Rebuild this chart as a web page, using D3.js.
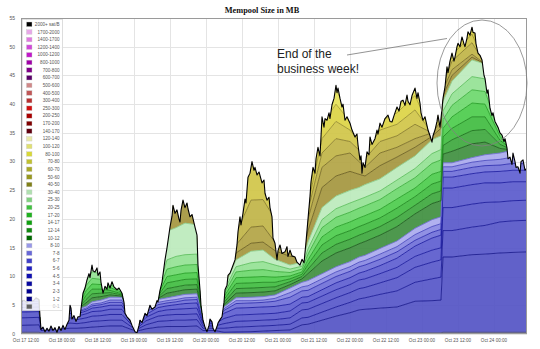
<!DOCTYPE html>
<html><head><meta charset="utf-8">
<script src="https://cdn.jsdelivr.net/npm/d3@7"></script>
<style>body{margin:0;background:#fff}svg{display:block}</style>
</head><body>
<svg id="chart" width="540" height="349"></svg>
<script>
// ---- categories (legend order, top to bottom) ----
const feeBands = ["2000+ sat/B","1700-2000","1400-1700","1200-1400","1000-1200","800-1000","700-800","600-700","500-600","400-500","300-400","250-300","200-250","170-200","140-170","120-140","100-120","80-100","70-80","60-70","50-60","40-50","30-40","25-30","20-25","17-20","14-17","12-14","10-12","8-10","7-8","6-7","5-6","4-5","3-4","2-3","1-2","0-1"];
const bandColors = ["#000000","#e8a8e8","#e078e0","#d048d8","#c018c8","#a000a8","#800088","#580068","#d08888","#c05858","#b83030","#d01010","#a80000","#800000","#600010","#e8e8a8","#e0e070","#d8d838","#c0c030","#a8a828","#989820","#808018","#b0e0b0","#80d080","#40c040","#20b020","#10a010","#108810","#006800","#9898e8","#6868d8","#4040c8","#2020c0","#1010b0","#0808a0","#000090","#000080","#606060"];

// ---- sample times (hours after Oct 17 12:00) for the fee layers ----
const layerHours = [-2,4.33,5,14.67,17,20,22,25,28,32,35,37,40,44,47,50,53,57,59,63,66,70,75,79,83,88,92,94,98.67,103.33,108,111,113,118,123.67,129.67,135.33,138.33,139,142,148.67,153,158,162.33,168];

// ---- layer sizes in MB (bottom layer first) ----
const v0_1   = [0.3,0.3,0.2,0.2,0.2,0.2,0.2,0.2,0.2,0.2, 0.2,0.1,0.2,0.2,0.2,0.2,0.2,0.2,0.1,0.1, 0.1,0.1,0.1,0.1,0.1,0.1,0.2,0.2,0.2,0.2, 0.2,0.2,0.2,0.2,0.2,0.2,0.2,0.2,0.3,0.3, 0.3,0.3,0.3,0.3,0.3];
const v1_2   = [1.2,1.3,0.4,0.8,0.8,0.9,1.0,1.1,1.2,1.2, 0.6,0.4,0.7,1.0,1.1,1.1,1.1,1.2,0.5,0.5, 0.2,0.25,0.3,0.4,0.5,0.6,1.4,1.5,2.2,2.9, 3.5,4.0,4.1,4.3,4.5,5.5,5.6,5.7,13.1,13.1, 13.5,13.6,13.8,13.9,14.0];
const v2_3   = [1.3,1.3,0.3,0.9,0.8,0.9,1.0,1.0,1.0,1.0, 0.5,0.3,0.7,1.0,1.0,1.1,1.1,1.1,0.4,0.4, 0.7,0.85,0.9,0.9,0.9,1.0,1.2,1.2,1.4,1.6, 1.8,1.9,2.0,2.4,2.8,3.3,3.8,4.0,4.6,4.6, 4.8,5.0,5.4,5.5,5.5];
const v3_4   = [1.0,1.0,0.3,0.9,0.7,0.8,0.9,0.9,1.0,1.0, 0.4,0.2,0.7,0.9,1.0,1.0,1.0,1.0,0.4,0.4, 0.8,1.0,1.0,1.0,1.0,1.1,1.4,1.4,1.5,1.6, 1.7,1.8,1.8,2.0,2.3,2.6,2.9,3.0,4.0,4.0, 4.0,4.0,3.5,3.5,3.5];
const v4_5   = [0.8,0.8,0.2,0.8,0.6,0.7,0.8,0.8,0.9,0.9, 0.3,0.2,0.6,0.8,0.9,0.9,1.0,1.0,0.4,0.4, 0.9,1.1,1.1,1.1,1.1,1.2,1.2,1.2,1.3,1.4, 1.4,1.5,1.5,1.6,1.8,1.9,2.1,2.1,3.4,3.4, 3.4,3.4,3.3,3.3,3.2];
const v5_6   = [0.6,0.6,0.2,0.6,0.4,0.5,0.6,0.7,0.7,0.7, 0.2,0.1,0.5,0.7,0.7,0.8,0.9,0.9,0.3,0.3, 0.9,1.2,1.2,1.2,1.2,1.2,1.0,1.0,1.1,1.2, 1.2,1.2,1.3,1.4,1.6,1.8,2.1,2.2,1.9,1.9, 1.9,1.9,2.0,2.0,2.0];
const v6_7   = [0.4,0.4,0.1,0.4,0.3,0.3,0.4,0.4,0.5,0.5, 0.2,0.1,0.4,0.5,0.5,0.5,0.6,0.6,0.2,0.2, 0.5,0.8,0.8,0.8,0.9,1.2,1.1,1.1,1.1,1.1, 1.1,1.1,1.1,1.1,1.1,1.0,1.0,1.0,1.0,1.0, 1.1,1.1,1.1,1.2,1.1];
const v7_8   = [0.3,0.3,0.1,0.3,0.2,0.2,0.3,0.3,0.4,0.4, 0.1,0.1,0.3,0.4,0.4,0.4,0.4,0.4,0.2,0.2, 0.3,0.5,0.4,0.4,0.5,0.8,0.7,0.8,0.8,0.8, 0.8,0.8,0.8,0.9,0.9,1.0,1.0,1.0,0.8,0.8, 0.9,0.9,1.0,1.1,1.0];
const v8_10  = [0.9,0.9,0.2,0.6,0.3,0.3,0.4,0.5,0.5,0.5, 0.2,0.3,0.4,0.5,0.5,0.6,0.6,0.6,0.5,0.5, 0.3,0.5,0.6,0.6,0.6,0.8,0.8,0.9,0.9,0.9, 0.9,0.9,0.9,1.0,1.0,1.1,1.2,1.2,0.7,0.7, 0.8,1.0,1.1,1.2,1.0];
const v10_12 = [0,0,0,0,0,0.6,0.7,0.6,0.4,0.2, 0,0,0,0.2,0.8,0.8,0.8,0.8,0,0, 0.4,0.8,0.8,0.8,0.7,0.6,0.6,1.2,2.2,2.4, 2.4,2.3,2.4,2.3,2.5,2.5,2.8,2.8,1.5,2.0, 2.4,2.2,0.8,0,0];
const v12_14 = [0,0,0,0,0,0.6,0.7,0.6,0.4,0.2, 0,0,0,0.2,0.8,0.8,0.8,0.8,0,0, 0.4,0.8,0.8,0.8,0.7,0.5,0.4,0.8,1.4,1.5, 1.5,1.5,1.5,1.5,1.6,1.5,1.7,1.7,1.5,2.0, 2.3,2.2,0.7,0,0];
const v14_17 = [0,0,0,0,0,0.7,0.8,0.7,0.4,0.2, 0,0,0,0.2,1.0,1.0,1.0,1.0,0,0, 0.5,0.9,0.9,0.9,0.8,0.5,0.4,0.8,1.4,1.5, 1.5,1.5,1.5,1.5,1.6,1.5,1.7,1.7,1.5,2.0, 2.4,2.2,0.7,0,0];
const v17_20 = [0,0,0,0,0,0.8,0.9,0.8,0.5,0.2, 0,0,0,0.3,1.1,1.1,1.1,1.1,0,0, 0.5,1.0,1.0,1.0,0.9,0.5,0.4,0.8,1.4,1.5, 1.5,1.5,1.5,1.5,1.6,1.5,1.7,1.7,1.5,2.0, 2.4,2.2,0.7,0,0];
const v20_25 = [0,0,0,0,0,0.9,1.0,0.9,0.5,0.3, 0,0,0,0.3,1.3,1.4,1.4,1.4,0,0, 0.5,1.0,1.2,1.2,1.0,0.6,0.5,1.0,1.6,1.7, 1.7,1.7,1.7,1.7,1.8,1.8,1.9,2.0,1.5,2.0, 2.3,2.2,0.7,0,0];
const v25_30 = [0,0,0,0,0,0.9,1.1,1.0,0.6,0.3, 0,0,0,0.4,1.6,1.8,1.8,1.8,0,0, 0.5,0.9,1.3,1.4,1.1,0.6,0.5,0.9,1.4,1.5, 1.6,1.5,1.5,1.5,1.5,1.6,1.7,1.8,1.5,2.0, 2.3,2.2,0.7,0,0];
const v30_40 = [0,0,0,0,0,2.7,3.3,3.0,2.0,1.5, 0.5,0,0,1.0,5.0,5.0,5.5,5.1,0,0, 0.5,1.2,2.0,2.0,1.0,0.7,0.7,1.2,2.1,2.2, 2.2,2.1,2.2,2.1,2.2,2.2,2.4,2.4,1.7,2.2, 2.9,2.6,0.7,0,0];
const v40_50 = [0,0,0,0,0,0,0,0,0,0, 0,0,0,0,1.6,5.5,5.2,0,0,0, 1.0,1.2,1.4,1.4,1.5,1.5,1.0,2.0,3.5,3.5, 3.3,2.3,1.5,2.3,1.8,1.5,0.6,1.3,1.0,1.0, 0.5,0,0,0,0];
const v50_60 = [0,0,0,0,0,0,0,0,0,0, 0,0,0,0,0,0,0,0,0,0, 0,1.4,2.8,2.8,1.5,1.5,0.5,2.0,3.5,3.5, 3.2,2.2,1.5,2.2,1.7,1.5,0.6,1.2,1.0,1.0, 0.5,0,0,0,0];
const v60_70 = [0,0,0,0,0,0,0,0,0,0, 0,0,0,0,0,0,0,0,0,0, 0,2.0,4.7,4.6,4.0,1.5,0,1.5,2.5,3.0, 2.0,2.0,1.5,2.0,2.0,2.5,0,1.5,1.0,1.5, 2.0,0,0,0,0];
const v70_80 = [0,0,0,0,0,0,0,0,0,0, 0,0,0,0,0,0,0,0,0,0, 0,0,7.7,4.6,0,0,0,1.0,2.5,3.0, 2.0,1.5,1.0,2.0,2.0,2.5,0,1.0,0.5,1.0, 1.5,0,0,0,0];
const v80_100 = [0,0,0,0,0,0,0,0,0,0, 0,0,0,0,0,0,0,0,0,0, 0,0,0,0,0,0,0,1.0,2.5,3.0, 1.5,1.0,0.5,1.5,2.0,2.5,0,0.5,0,1.0, 1.0,0,0,0,0];
const v100_120 = [0,0,0,0,0,0,0,0,0,0, 0,0,0,0,0,0,0,0,0,0, 0,0,0,0,0,0,0,0.5,1.5,2.5, 1.0,0.5,0.5,1.0,1.0,1.5,0,0,0,0.5, 1.0,0,0,0,0];
const v120_140 = [0,0,0,0,0,0,0,0,0,0, 0,0,0,0,0,0,0,0,0,0, 0,0,0,0,0,0,0,0,1.0,2.0, 0.5,0.5,0,0.5,1.0,1.0,0,0,0,0, 0.4,0,0,0,0];

// ---- total mempool size: sample times (hours after Oct 17 12:00) and MB ----
const totalHours = [-2,-1.67,-0.67,0.33,1.33,2.33,3.33,4.33,4.67,5,5.67,6.33,7,7.67,8.33,9,9.67,10.33,11,11.67,12.33,13,13.67,14.33,14.67,15,15.33,16,16.67,17.33,18,19,19.67,20.33,21,21.33,22,22.33,23,23.67,24,24.67,25,25.67,26.33,27,27.33,28,28.67,29.33,30.33,31,32,32.67,33,33.67,34.67,35.33,36.33,37,37.67,38,38.67,39.67,40.33,41.33,42,43,43.67,44,44.67,45.33,46.33,47,48,48.67,49,49.67,50.33,51,51.33,51.67,52.33,53,53.67,54,54.67,55.33,56.33,57,57.33,58,58.33,59,59.67,60.33,61,61.33,62,62.33,63,63.67,64,64.67,65.33,66,66.33,67,67.33,68,68.67,69.67,70.33,70.67,71.33,71.67,72.33,73,73.33,74,74.67,75.33,76,76.33,77,77.67,78.67,79.33,79.67,80.33,81,81.33,82,82.33,83,83.67,84,84.67,85.33,86.33,87,87.33,88,88.67,89.67,90.33,91.33,92,92.67,93.33,94,94.67,95,95.67,96.33,96.67,97.33,98,98.67,99.33,99.67,100.33,101,101.33,102,102.67,103.33,103.67,104,104.67,105.33,105.67,106.33,107,108,108.67,109.67,110.33,110.67,111.33,111.67,112,112.33,113,113.67,114.33,114.67,115.33,116.33,117,117.33,118,118.67,119.67,120.67,121.33,122,122.67,123.67,124.33,125,125.67,126.33,127,127.33,128,128.67,129.67,130.33,130.67,131.33,131.67,132.33,133,134,134.67,135.33,135.67,136.33,137,137.33,138,138.33,139,139.67,140.33,140.67,141.33,142,142.67,143,143.67,144,144.67,145.33,146,146.33,147,147.33,148,148.67,149,149.67,150,150.67,151.33,152,152.67,153,153.67,154,154.67,155.33,155.67,156.33,157.33,158,158.67,159.33,159.67,160.33,160.67,161.33,162,162.33,163,163.33,164,164.67,165,165.67,166.33,167,168];
const totalMB = [5.6,5.6,5.9,5.4,6.1,5.7,6.3,6.0,3.0,0.8,1.2,0.4,1.0,0.5,1.4,0.6,1.1,0.3,1.3,0.6,1.5,0.8,1.7,2.4,5.0,4.5,2.6,3.2,2.2,3.0,3.0,7.1,8.0,9.4,10.5,9.8,12.0,11.0,10.8,11.5,10.2,10.8,9.0,7.1,8.3,7.8,8.9,8.0,9.1,8.2,7.7,8.0,7.1,5.5,3.6,3.0,2.4,1.5,0.4,0.2,1.5,2.4,2.0,3.6,3.2,5.0,4.3,4.7,5.8,5.6,7.6,9.0,12.9,15.0,18.6,20.5,22.4,21.0,21.6,20.0,19.5,21.5,23.3,22.0,22.8,21.8,20.4,20.8,18.6,17.2,12.0,7.7,5.0,2.4,1.2,0.4,1.5,2.6,2.1,1.0,0.4,1.3,1.9,2.5,3.0,5.5,7.7,8.5,10.2,10.6,11.5,12.9,15.5,17.8,20.4,19.0,21.0,23.5,22.8,27.3,28.0,30.0,28.5,29.0,27.7,28.2,26.3,26.8,24.5,23.3,23.8,22.0,20.4,16.7,15.8,12.9,14.5,15.5,14.0,14.3,15.2,13.5,14.6,13.6,13.4,12.5,12.0,13.0,12.4,16.0,20.0,24.0,26.5,29.0,28.0,30.5,32.5,31.0,37.8,36.0,37.5,37.2,38.5,37.5,39.9,41.0,43.3,42.0,42.8,41.0,39.5,40.0,37.2,37.8,36.7,35.5,34.3,34.8,32.9,30.3,31.0,28.0,29.8,29.0,31.7,31.2,34.3,33.0,34.0,35.5,34.8,36.7,36.0,37.5,38.1,37.0,36.9,38.0,39.5,38.8,40.5,40.7,39.8,41.6,40.5,39.9,41.5,42.8,41.0,42.0,40.2,38.5,37.2,37.8,35.5,34.5,33.4,34.5,35.5,37.0,38.1,36.0,37.5,41.0,43.0,46.5,45.5,47.5,48.9,47.5,48.2,50.0,50.6,50.0,51.7,50.5,50.0,51.5,52.6,52.0,53.4,52.5,52.4,50.5,48.9,48.5,47.7,45.0,44.5,41.9,42.5,39.3,38.0,38.5,37.0,36.0,35.0,34.6,33.5,34.0,32.4,30.5,30.8,29.5,31.5,30.0,29.0,29.1,28.0,30.0,30.3,28.5,28.9,29.0];

// ---- axis ticks ----
const yTicks = [0,5,10,15,20,25,30,35,40,45,50,55];
const xTickHours = [0,12,24,36,48,60,72,84,96,108,120,132,144,156];

// ---- plot styling (area fills / line colours per stacked layer) ----
const layerKeys = ["0-1","1-2","2-3","3-4","4-5","5-6","6-7","7-8","8-10","10-12","12-14","14-17","17-20","20-25","25-30","30-40","40-50","50-60","60-70","70-80","80-100","100-120","120-140"];
const layerFills = ["#7a7ab4","#5454c4","#5656c8","#5858ca","#5a5acc","#5e5ed0","#7070d8","#8888e2","#aaaaee","#3f8f3f","#3ea83e","#40bc40","#4ccc4c","#6cd86c","#94e294","#bceabc","#a4963e","#b2a444","#c0b446","#d0c648","#dcd444","#e6e258","#eeee8c"];
const layerStrokes = ["#505070","#1c1c90","#1c1c98","#1c1c9c","#1e1ea0","#2020a4","#3030b0","#4c4cc0","#7070d0","#1e5e1e","#1e741e","#208a20","#28a028","#40b040","#60c060","#90d090","#6e6224","#7c6e28","#8a7e2c","#9a9030","#aaa030","#b8b040","#c8c870"];

const layerSeries = [v0_1,v1_2,v2_3,v3_4,v4_5,v5_6,v6_7,v7_8,v8_10,v10_12,v12_14,v14_17,v17_20,v20_25,v25_30,v30_40,v40_50,v50_60,v60_70,v70_80,v80_100,v100_120,v120_140];

const start = Date.UTC(2020,9,17,12);
const t = h => new Date(start + h*3600e3);

const PL=21, PR=527, PT=18, PB=334;
const x = d3.scaleUtc().domain([t(-5/3), t(167)]).range([PL,PR]);
const y = d3.scaleLinear().domain([0,55]).range([PB,PT]);

const svg = d3.select("#chart");
const defs = svg.append("defs");
defs.append("clipPath").attr("id","plotClip").append("rect")
  .attr("x",PL).attr("y",PT).attr("width",PR-PL).attr("height",PB-PT);

const totalRows = totalMB.map((v,i)=>({h: totalHours[i], v}));
const totalArea = d3.area().x(d=>x(t(d.h))).y0(y(0)).y1(d=>y(d.v));
defs.append("clipPath").attr("id","totalClip").append("path").attr("d", totalArea(totalRows));

// title
svg.append("text").attr("x",262).attr("y",12.5).attr("text-anchor","middle")
  .attr("font-family","'Liberation Serif',serif").attr("font-weight","bold")
  .attr("font-size",8.3).attr("fill","#111").text("Mempool Size in MB");

// grid
const grid = svg.append("g").attr("stroke","#e4e4e4").attr("stroke-width",1);
yTicks.forEach(v=>grid.append("line").attr("x1",PL).attr("x2",PR).attr("y1",Math.round(y(v))+0.5).attr("y2",Math.round(y(v))+0.5));
xTickHours.forEach(h=>grid.append("line").attr("y1",PT).attr("y2",PB).attr("x1",Math.round(x(t(h)))+0.5).attr("x2",Math.round(x(t(h)))+0.5));

// stacked layers
const rows = layerHours.map((h,i)=>{const r={h}; layerKeys.forEach((k,j)=>r[k]=layerSeries[j][i]); return r;});
const stacked = d3.stack().keys(layerKeys)(rows);
const area = d3.area().x(d=>x(t(d.data.h))).y0(d=>y(d[0])).y1(d=>y(d[1]));
const topLine = d3.line().x(d=>x(t(d.data.h))).y(d=>y(d[1]));

const gPlot = svg.append("g").attr("clip-path","url(#plotClip)");
const gData = gPlot.append("g").attr("clip-path","url(#totalClip)");
stacked.forEach((s,i)=>{
  gData.append("path").attr("d",area(s)).attr("fill",layerFills[i]).attr("fill-opacity",0.92).attr("stroke","none");
});
stacked.forEach((s,i)=>{
  gData.append("path").attr("d",topLine(s)).attr("fill","none").attr("stroke",layerStrokes[i]).attr("stroke-width",0.9);
});
// total (2000+ series line on top of the stack)
const totalLine = d3.line().x(d=>x(t(d.h))).y(d=>y(d.v));
gPlot.append("path").attr("d",totalLine(totalRows)).attr("fill","none").attr("stroke","#000").attr("stroke-width",1.1).attr("stroke-linejoin","round");

// frame
svg.append("rect").attr("x",PL+0.5).attr("y",PT+0.5).attr("width",PR-PL-1).attr("height",PB-PT-1)
  .attr("fill","none").attr("stroke","#9a9a9a").attr("stroke-width",1);

// axes labels
const axisFont = "'Liberation Sans',Arial,sans-serif";
yTicks.forEach(v=>svg.append("text").attr("x",15).attr("y",y(v)+1.8).attr("text-anchor","end")
  .attr("font-family",axisFont).attr("font-size",5).attr("fill","#555").text(v));
const fmt = d3.utcFormat("%b %d %H:%M");
xTickHours.forEach(h=>svg.append("text").attr("x",x(t(h))).attr("y",341.5).attr("text-anchor","middle")
  .attr("font-family",axisFont).attr("font-size",4.6).attr("fill","#555").text(fmt(t(h))));

// legend
const lg = svg.append("g");
lg.append("rect").attr("x",22.5).attr("y",19.5).attr("width",40).attr("height",291)
  .attr("fill","#fff").attr("fill-opacity",0.85).attr("stroke","#d0d0d0").attr("stroke-width",0.6);
feeBands.forEach((b,i)=>{
  const cy = 24.3 + i*7.63;
  lg.append("rect").attr("x",26.5).attr("y",cy-2.3).attr("width",5.5).attr("height",4.6)
    .attr("fill",bandColors[i]).attr("stroke","#ccc").attr("stroke-width",0.4);
  lg.append("text").attr("x",59.5).attr("y",cy+1.6).attr("text-anchor","end")
    .attr("font-family",axisFont).attr("font-size",4.6).attr("fill", i===feeBands.length-1 ? "#bbb" : "#555").text(b);
});

// annotation
svg.append("ellipse").attr("cx",482).attr("cy",83).attr("rx",45).attr("ry",63)
  .attr("fill","none").attr("stroke","#808080").attr("stroke-width",0.8);
svg.append("line").attr("x1",347).attr("y1",55).attr("x2",447).attr("y2",38.5)
  .attr("stroke","#777").attr("stroke-width",0.8);
const ann = svg.append("text").attr("font-family","'Liberation Sans',Arial,sans-serif").attr("font-size",12).attr("fill","#222");
ann.append("tspan").attr("x",277).attr("y",57.5).text("End of the");
ann.append("tspan").attr("x",277).attr("y",72.5).text("business week!");
</script>
</body></html>
